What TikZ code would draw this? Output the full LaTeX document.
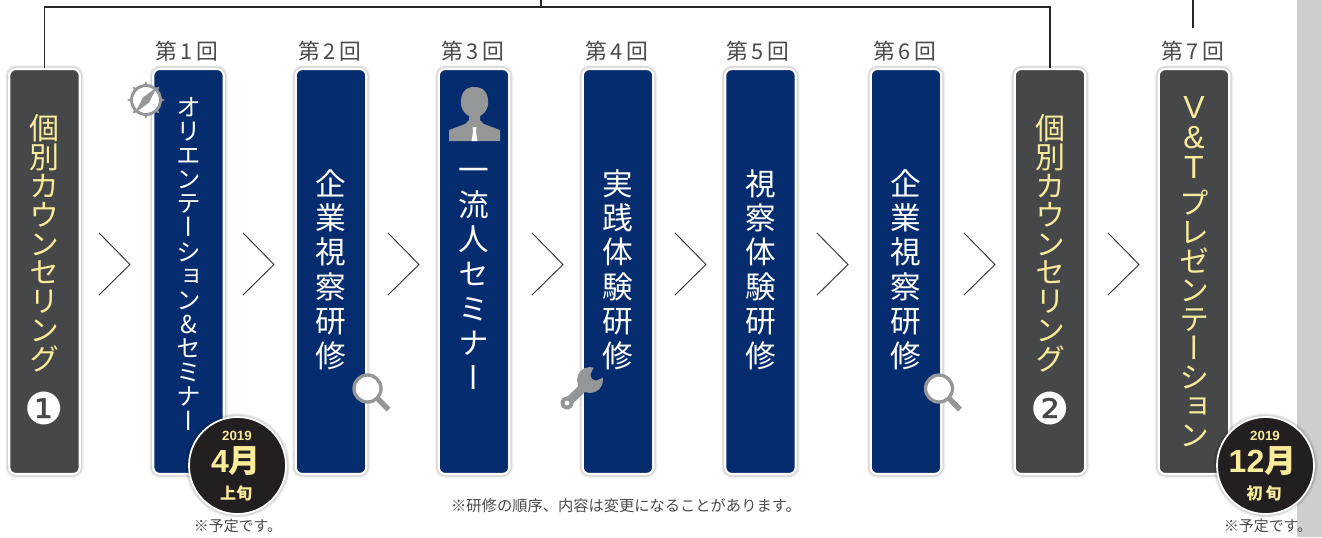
\documentclass[tikz,border=0pt]{standalone}
\usepackage{fontspec}
\setmainfont{Noto Sans CJK JP}
\newfontfamily\vfont[RawFeature={+vert}]{Noto Sans CJK JP}
\newfontfamily\lat{Liberation Sans}
\newfontfamily\latb{Liberation Sans Bold}
\newfontfamily\sym{DejaVu Sans}
\usetikzlibrary{calc}
\definecolor{navy}{HTML}{052C6E}
\definecolor{dark}{HTML}{464748}
\definecolor{cream}{HTML}{F8EC9B}
\definecolor{disc}{HTML}{231F20}
\definecolor{ico}{HTML}{959698}
\definecolor{lbl}{HTML}{4A4A4A}
\definecolor{panel}{HTML}{CFCECD}
\tikzset{
 card/.style={draw=white,line width=1.6pt,rounded corners=5pt,minimum width=70.5*0.75pt,minimum height=405*0.75pt,inner sep=0pt,
   preaction={draw=black,draw opacity=.04,line width=6pt},
   preaction={draw=black,draw opacity=.06,line width=4.6pt},
   preaction={draw=black,draw opacity=.08,line width=3.4pt}},
 navycard/.style={card,fill=navy},
 darkcard/.style={card,fill=dark},
 vt/.style 2 args={align=center,inner sep=0pt,text=white,font=\vfont\fontsize{#1}{#2}\selectfont},
 vy/.style 2 args={vt={#1}{#2},text=cream},
 num/.style={text=lbl,inner sep=0pt,font=\fontsize{16.3}{16}\selectfont},
 note/.style={text=lbl,inner sep=0pt,font=\fontsize{11.2}{12}\selectfont},
 link/.style={draw=black!85,line width=1.1pt},
 chev/.style={draw=black!80,line width=.7pt},
 datec/.style={circle,fill=disc,draw=white,line width=1.3pt,minimum size=97*0.75pt,inner sep=0pt,
   preaction={draw=black,draw opacity=.04,line width=6pt},
   preaction={draw=black,draw opacity=.06,line width=4.6pt},
   preaction={draw=black,draw opacity=.08,line width=3.2pt}},
 dt/.style={text=cream,inner sep=0pt},
 badge/.style={inner sep=0pt,text=white,font=\sym\fontsize{33}{33}\selectfont},
}
\newcommand{\chevron}[1]{\draw[chev] (#1,233) -- (#1+31,264.5) -- (#1,295);}
\newcommand{\lens}[2]{%
 \begin{scope}[shift={(#1,#2)}]
  \draw[ico,line width=2.5pt,fill=white] (0,0) circle (13.5);
  \draw[ico,line width=4pt] (10,10) -- (21,21);
 \end{scope}}
\newcommand{\ltr}[1]{{\lat\fontsize{24}{21.75}\selectfont #1}}
\begin{document}
\begin{tikzpicture}[x=0.75pt,y=-0.75pt]
\useasboundingbox (0,0) rectangle (1322,537);
\fill[panel] (1297,0) rectangle (1322,537);
% cards
\node[darkcard] (c1) at (44.5,271.5) {};
\node[navycard] (c2) at (188.5,271.5) {};
\node[navycard] (c3) at (331,271.5) {};
\node[navycard] (c4) at (474,271.5) {};
\node[navycard] (c5) at (618,271.5) {};
\node[navycard] (c6) at (760.5,271.5) {};
\node[navycard] (c7) at (906,271.5) {};
\node[darkcard] (c8) at (1050,271.5) {};
\node[darkcard] (c9) at (1194,271.5) {};
% connectors
\coordinate (t1) at (541,0);
\coordinate (t2) at (1193,0);
\coordinate (t3) at (1193,28);
\coordinate (j) at (541,7);
\draw[link] (c1.north) -- (c1.north |- j) -- (c8.north |- j) -- (c8.north);
\draw[link] (t1) -- (j);
\draw[link] (t2) -- (t3);
% round labels
\node[num] (n1) at (187,51) {第\,1\,回};
\node[num] (n2) at (330,51) {第\,2\,回};
\node[num] (n3) at (473,51) {第\,3\,回};
\node[num] (n4) at (617,51) {第\,4\,回};
\node[num] (n5) at (758,51) {第\,5\,回};
\node[num] (n6) at (905,51) {第\,6\,回};
\node[num] (n7) at (1193,51) {第\,7\,回};
% chevrons
\chevron{99}\chevron{243}\chevron{388}\chevron{532}\chevron{675}\chevron{817}\chevron{964}\chevron{1108}
% vertical text
\node[vy={22.5}{21.7}, anchor=north] (a1) at (44.5,114) {個\\別\\カ\\ウ\\ン\\セ\\リ\\ン\\グ};
\node[badge] (a1b) at (44.5,408) {❶};
\node[vt={18.5}{18.1}, anchor=north] (a2) at (188.5,97) {オ\\リ\\エ\\ン\\テ\\ー\\シ\\ョ\\ン\\\&\\セ\\ミ\\ナ\\ー};
\node[vt={23}{25.8}, anchor=north] (a3) at (331,169) {企\\業\\視\\察\\研\\修};
\node[vt={23}{26}, anchor=north] (a4) at (474,168) {一\\流\\人\\セ\\ミ\\ナ\\ー};
\node[vt={23}{25.8}, anchor=north] (a5) at (618,169) {実\\践\\体\\験\\研\\修};
\node[vt={23}{25.8}, anchor=north] (a6) at (760.5,169) {視\\察\\体\\験\\研\\修};
\node[vt={23}{25.8}, anchor=north] (a7) at (906,169) {企\\業\\視\\察\\研\\修};
\node[vy={22.5}{21.7}, anchor=north] (a8) at (1050,114) {個\\別\\カ\\ウ\\ン\\セ\\リ\\ン\\グ};
\node[badge] (a8b) at (1050,408) {❷};
\node[vy={22.5}{21.75}, anchor=north] (a9) at (1194,96) {\ltr{V}\\[0.75pt]\ltr{\&}\\[0.75pt]\ltr{T}\\[5.25pt]プ\\レ\\ゼ\\ン\\テ\\ー\\シ\\ョ\\ン};
% icons
\lens{367.5}{388.5}\lens{939}{388.5}
\begin{scope}[shift={(146,100)}]
 \draw[ico,line width=2.2pt,fill=white] (0,0) circle (14.5);
 \fill[ico] (11,-13) -- (3,2.5) -- (-11,13) -- (-3,-2.5) -- cycle;
 \foreach \a in {0,45,...,315} \fill[ico,rotate=\a] (14.5,-2) -- (19,0) -- (14.5,2) -- cycle;
\end{scope}
% person
\fill[ico] (449,141) -- (449,130) -- (465,124) -- (469,120) -- (469,116) .. controls (465,114) and (462,110) .. (461,105) .. controls (460,92) and (466,87) .. (474,87) .. controls (483,87) and (489,92) .. (488,105) .. controls (487,110) and (484,114) .. (480,116) -- (480,120) -- (484,124) -- (500,130) -- (500,141) -- cycle;
\fill[white] (472.5,127) -- (476.5,127) -- (476,132) -- (477.5,141) -- (471.5,141) -- (473,132) -- cycle;
% wrench
\draw[ico,line width=6.6pt] (567,403) -- (588,383);
\fill[ico] (567,403) circle (6.5);
\fill[ico] (590,380) circle (13);
\fill[navy] (596,375) circle (5.5);
\fill[navy] (592,371) -- (597,362) -- (608,373) -- (600,379) -- cycle;
\fill[white] (567,403) circle (2.4);
% dates
\node[datec] (d1) at (237.5,465.5) {};
\node[dt,font=\latb\fontsize{10}{10}\selectfont] (d1a) at (237,436) {2019};
\node[dt,font=\bfseries\fontsize{24}{25}\selectfont] (d1b) at (236,461) {{\latb 4}月};
\node[dt,font=\bfseries\fontsize{12}{12}\selectfont] (d1c) at (236,493) {上旬};
\node[datec] (d2) at (1265.5,465.5) {};
\node[dt,font=\latb\fontsize{10}{10}\selectfont] (d2a) at (1265,436) {2019};
\node[dt,font=\bfseries\fontsize{24}{25}\selectfont] (d2b) at (1262.5,461) {{\latb 12}月};
\node[dt,font=\bfseries\fontsize{12}{12}\selectfont] (d2c) at (1264,493) {初\,旬};
% notes
\node[note] (no1) at (238,526) {※予定です。};
\node[note] (no2) at (1268,526) {※予定です。};
\node[note,font=\fontsize{11.45}{12}\selectfont] (no3) at (626,506) {※研修の順序、内容は変更になることがあります。};
\end{tikzpicture}
\end{document}
